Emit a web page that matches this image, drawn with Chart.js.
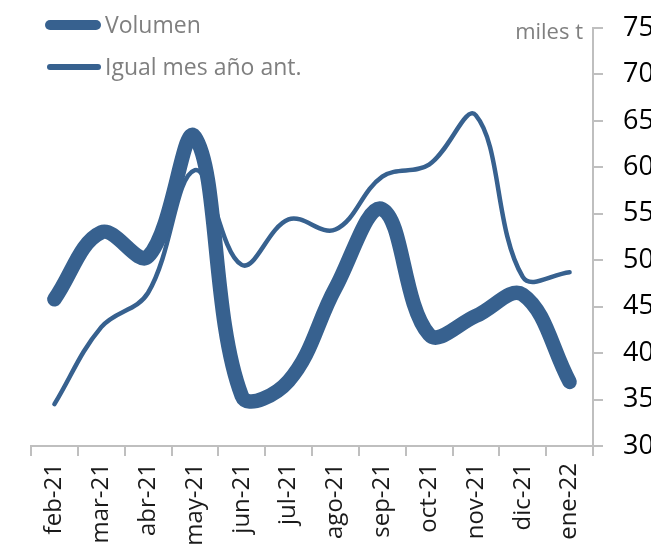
<!DOCTYPE html>
<html lang="es">
<head>
  <meta charset="UTF-8">
  <title>Volumen mensual</title>
  <script src="https://cdn.jsdelivr.net/npm/chart.js"></script>
  <style>
    body { margin: 0; background: #fff; font-family: "Open Sans", sans-serif; }
    #wrap { position: relative; width: 651px; height: 552px; overflow: hidden; }
    .legend { position: absolute; left: 45px; color: #7f7f7f; font-size: 23px; line-height: 1; }
    .legend span.swatch { position: absolute; left: 0; width: 56px; background: #37618f; border-radius: 6px; }
    .legend span.txt { position: absolute; left: 60px; white-space: nowrap; top: -12px; }
    #unit { position: absolute; right: 68px; top: 15px; color: #808080; font-size: 22px; }
  </style>
</head>
<body>

<div id="wrap">
  <canvas id="chart" width="651" height="552"></canvas>
  <div class="legend" style="top:25px"><span class="swatch" style="top:-5px;height:10px"></span><span class="txt">Volumen</span></div>
  <div class="legend" style="top:67px"><span class="swatch" style="top:-3px;height:6px;left:2px;width:54px"></span><span class="txt">Igual mes año ant.</span></div>
  <div id="unit">miles t</div>
</div>

<script>
const months = ['feb-21', 'mar-21', 'abr-21', 'may-21', 'jun-21', 'jul-21', 'ago-21', 'sep-21', 'oct-21', 'nov-21', 'dic-21', 'ene-22'];
const volumen = [45.8, 53.0, 50.4, 63.3, 35.4, 37.0, 47.0, 55.5, 42.0, 44.0, 46.3, 36.9];
const igualMes = [34.5, 42.8, 46.5, 59.7, 49.5, 54.4, 53.3, 59.0, 60.3, 65.6, 48.2, 48.7];

const blue = '#37618f';
const axisGrey = '#bfbfbf';

new Chart(document.getElementById('chart').getContext('2d'), {
  type: 'line',
  data: {
    labels: months,
    datasets: [
      { label: 'Volumen', data: volumen, borderColor: blue, borderWidth: 14.5, tension: 0.38,
        borderCapStyle: 'round', borderJoinStyle: 'round', pointRadius: 0, fill: false },
      { label: 'Igual mes año ant.', data: igualMes, borderColor: blue, borderWidth: 4.5, tension: 0.38,
        borderCapStyle: 'round', borderJoinStyle: 'round', pointRadius: 0, fill: false }
    ]
  },
  options: {
    responsive: false,
    animation: false,
    layout: { padding: { left: 31, top: 28, right: 0, bottom: 0 } },
    plugins: { legend: { display: false }, tooltip: { enabled: false } },
    scales: {
      x: {
        offset: true,
        grid: { offset: true, drawOnChartArea: false, drawTicks: true, tickLength: 10, color: axisGrey, lineWidth: 2 },
        border: { color: axisGrey, width: 2 },
        ticks: { autoSkip: false, minRotation: 90, maxRotation: 90, padding: 7, color: '#1a1a1a',
                 font: { family: 'Open Sans', size: 24 } },
        afterFit: s => { s.height = 106; s.paddingLeft = 0; s.paddingRight = 0; }
      },
      y: {
        position: 'right',
        min: 30, max: 75,
        grid: { drawOnChartArea: false, drawTicks: true, tickLength: 10, color: axisGrey, lineWidth: 2 },
        border: { color: axisGrey, width: 2 },
        ticks: { stepSize: 5, padding: 20, color: '#000', font: { family: 'Open Sans', size: 27 } },
        afterFit: s => { s.width = 58; s.paddingTop = 0; s.paddingBottom = 0; }
      }
    }
  }
});
</script>

</body>
</html>
